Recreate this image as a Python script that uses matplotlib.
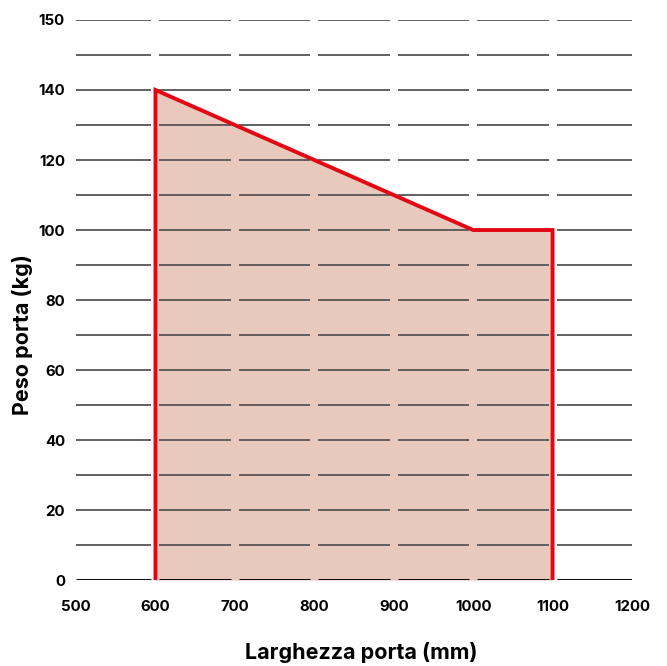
import matplotlib
matplotlib.use("Agg")
import matplotlib.pyplot as plt
import numpy as np

# data
width_mm = [600, 600, 1000, 1100, 1100]
weight_kg = [0, 140, 100, 100, 0]
x_ticks = [500, 600, 700, 800, 900, 1000, 1100, 1200]
y_tick_pos = [0, 20, 40, 60, 80, 100, 120, 140, 160]
y_tick_labels = ['0', '20', '40', '60', '80', '100', '120', '140', '150']
grid_levels = list(range(0, 161, 10))

plt.rcParams['font.family'] = ['Inter', 'DejaVu Sans']

fig = plt.figure(figsize=(6.67, 6.66), dpi=100)
ax = fig.add_axes([0.114, 0.129, 0.8335, 0.841])
ax.set_xlim(500, 1200)
ax.set_ylim(0, 160)

# fill
ax.fill_between(width_mm, weight_kg, 0, color='#e9c9bc', zorder=1, linewidth=0)

# broken horizontal grid lines
gap = 5
for lvl in grid_levels:
    lw = 2.2 if lvl == 0 else 1.3
    col = '#111111' if lvl == 0 else '#555555'
    for i in range(len(x_ticks) - 1):
        x0 = x_ticks[i] + (0 if i == 0 else gap)
        x1 = x_ticks[i + 1] - (0 if i == len(x_ticks) - 2 else gap)
        ax.plot([x0, x1], [lvl, lvl], color=col, lw=lw, zorder=2,
                solid_capstyle='butt')

# red outline (no bottom)
ax.plot(width_mm, weight_kg, color='#e30613', lw=2.8, zorder=3,
        solid_joinstyle='miter')

for s in ax.spines.values():
    s.set_visible(False)
ax.set_xticks(x_ticks)
ax.set_yticks(y_tick_pos)
ax.set_yticklabels(y_tick_labels)
ax.tick_params(length=0, labelsize=10.8)
ax.tick_params(axis='x', pad=14)
ax.tick_params(axis='y', pad=8)
for lab in ax.get_xticklabels() + ax.get_yticklabels():
    lab.set_fontweight('bold')

ax.set_xlabel('Larghezza porta (mm)', fontsize=15.5, fontweight='bold')
ax.xaxis.set_label_coords(0.5126, -0.111)
ax.set_ylabel('Peso porta (kg)', fontsize=15.5, fontweight='bold')
ax.yaxis.set_label_coords(-0.077, 0.4375)

fig.savefig('out.png', dpi=100)
